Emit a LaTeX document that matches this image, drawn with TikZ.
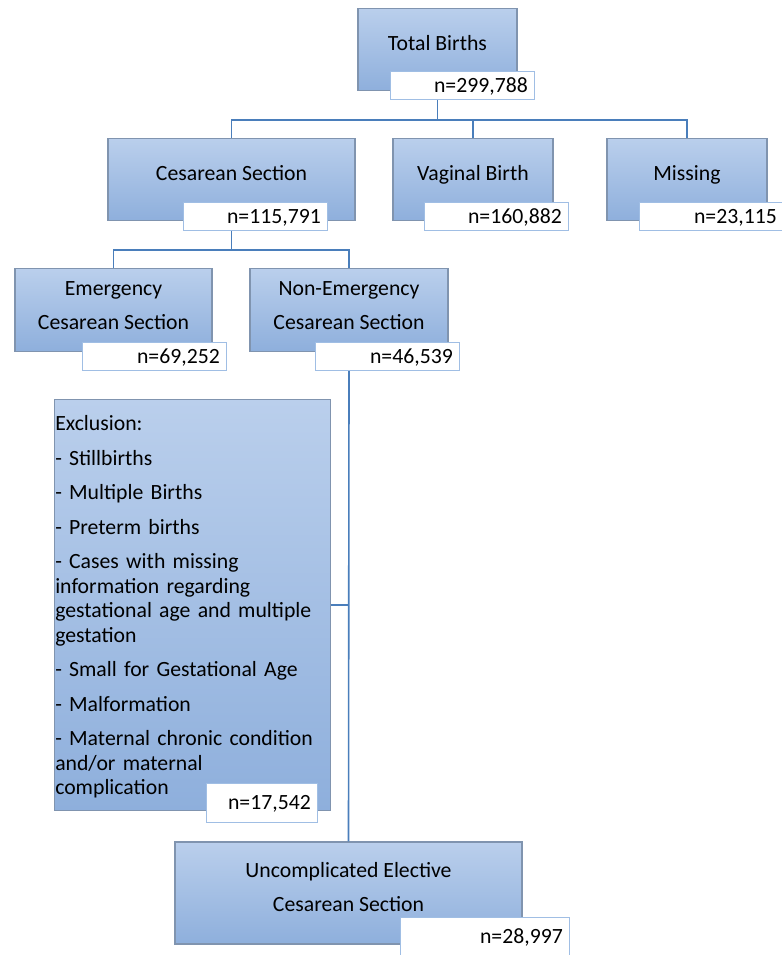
\documentclass[tikz,border=0pt]{standalone}
\usepackage{fontspec}
\setmainfont{Carlito}
\usetikzlibrary{positioning, calc}

\definecolor{boxtop}{RGB}{186,207,236}
\definecolor{boxbot}{RGB}{142,175,220}
\definecolor{boxline}{RGB}{128,148,175}
\definecolor{nline}{RGB}{160,190,228}
\definecolor{linkblue}{RGB}{74,126,187}

\begin{document}
\begin{tikzpicture}[x=0.75pt, y=-0.75pt,
    every node/.style={font=\fontsize{16.3}{18.4}\selectfont},
    mainbox/.style={draw=boxline, line width=0.9pt, top color=boxtop, bottom color=boxbot, minimum height=62pt, inner sep=0pt, align=center},
    onerow/.style={text height=10pt, text depth=8.8pt},
    tworow/.style={text depth=6.75pt},
    nbox/.style={draw=nline, line width=0.8pt, fill=white, anchor=south east, minimum height=21pt, text width=98pt, inner xsep=5pt, inner ysep=0pt, align=right, text height=10pt, text depth=0pt},
    link/.style={draw=linkblue, line width=1.2pt}]
    \useasboundingbox (0,0) rectangle (781,955);

    % cohort flow boxes
    \node[mainbox, onerow, minimum width=119.25pt] (tot) at (437.5,49.5) {Total Births};
    \node[mainbox, onerow, minimum width=185.25pt] (ces) at (231.5,179.5) {Cesarean Section};
    \node[mainbox, onerow, minimum width=120pt] (vag) at (473,179.5) {Vaginal Birth};
    \node[mainbox, onerow, minimum width=120pt] (miss) at (687,179.5) {Missing};

    \node[mainbox, tworow, minimum width=147.75pt] (emer) at (113.5,310) {Emergency\\[7.5pt]Cesarean Section};
    \node[mainbox, tworow, minimum width=148.5pt] (nonemer) at (349,310) {Non-Emergency\\[7.5pt]Cesarean Section};

    \node[mainbox, anchor=north west, text width=206pt, minimum height=308.25pt, inner xsep=0.5pt, text height=14pt, align=left] (excl) at (54,399) {Exclusion:\\[7.5pt]
        - Stillbirths\\[7.5pt]
        - Multiple Births\\[7.5pt]
        - Preterm births\\[7.5pt]
        - Cases with missing\\information regarding\\gestational age and multiple\\gestation\\[7.5pt]
        - Small for Gestational Age\\[7.5pt]
        - Malformation\\[7.5pt]
        - Maternal chronic condition\\and/or maternal\\complication};

    \node[mainbox, tworow, text depth=9pt, minimum width=260.25pt, minimum height=76.5pt] (elec) at (348.5,893) {Uncomplicated Elective\\[7.5pt]Cesarean Section};

    % counts
    \node[nbox] (ntot) at (535,100) {n=299,788};
    \node[nbox] (nces) at (328,231) {n=115,791};
    \node[nbox] (nvag) at (569,231) {n=160,882};
    \node[nbox] (nmiss) at (784,231) {n=23,115};
    \node[nbox] (nemer) at (227,371) {n=69,252};
    \node[nbox] (nnon) at (460,371) {n=46,539};
    \node[nbox, minimum height=29.25pt, text width=73.25pt] (nexcl) at (318,823) {n=17,542};
    \node[nbox, minimum height=29.25pt, text width=116.75pt] (nelec) at (570,957) {n=28,997};

    % connectors
    \coordinate (bus1) at (437.5,120);
    \coordinate (bus2) at (231.5,250);
    \draw[link] (tot |- ntot.south) -- (bus1);
    \draw[link] (ces.north) |- (bus1) -| (miss.north);
    \draw[link] (vag.north) -- (vag.north |- bus1);
    \draw[link] (ces |- nces.south) -- (bus2);
    \draw[link] (emer.north) |- (bus2) -| (nonemer.north);
    \draw[link] (nonemer |- nnon.south) -- (elec.north);
    \draw[link] (excl.east) -- (excl.east -| nonemer);
\end{tikzpicture}
\end{document}
